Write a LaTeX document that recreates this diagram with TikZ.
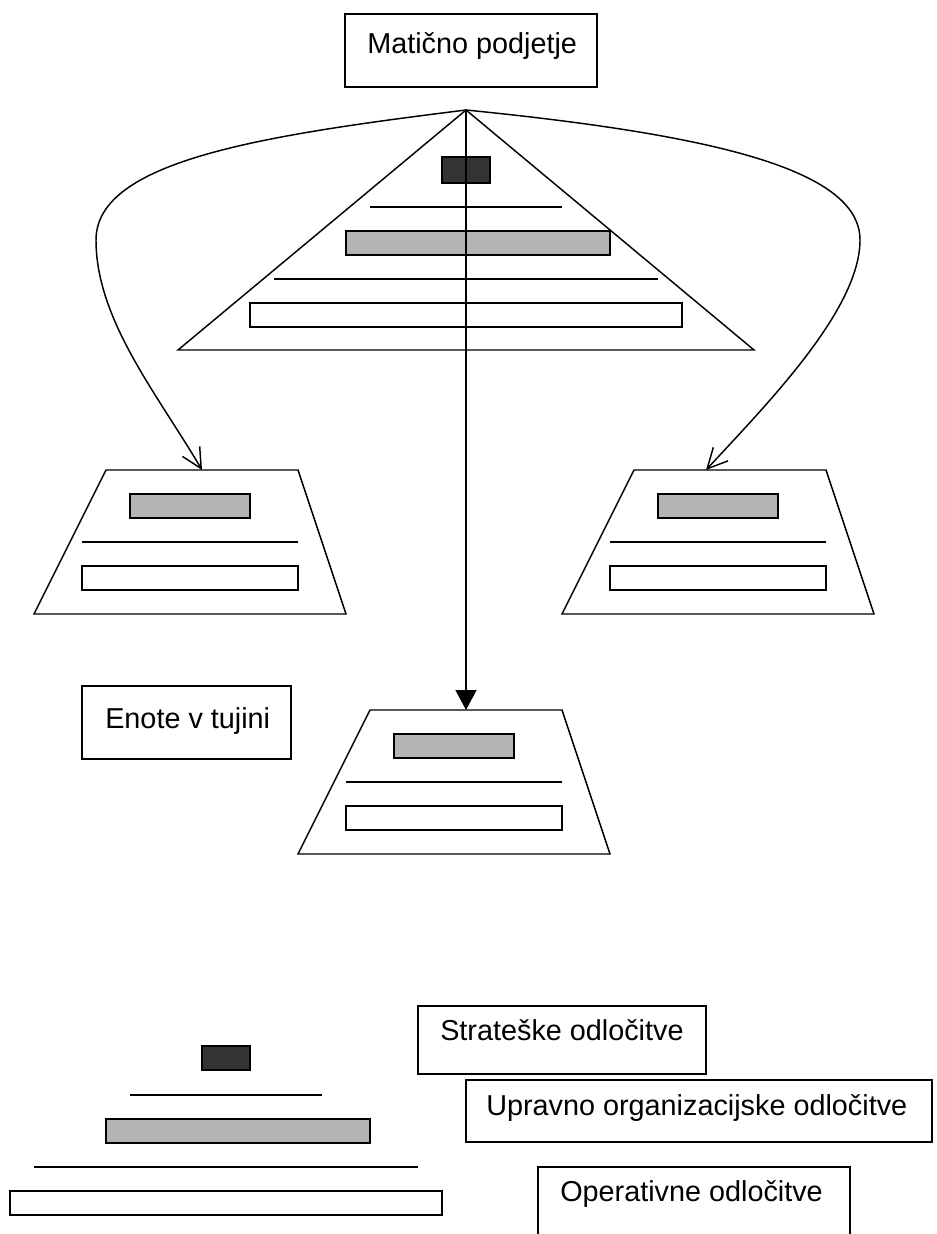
\documentclass[tikz,border=0pt]{standalone}
\usepackage{fontspec}
\setmainfont{Liberation Sans}
\usetikzlibrary{arrows.meta}
\definecolor{darkbar}{HTML}{333333}
\definecolor{graybar}{HTML}{B3B3B3}
\tikzset{
  ln/.style={line width=1.1pt, line join=miter},
  box/.style={ln, draw=black, fill=white},
  darkrect/.style={ln, draw=black, fill=darkbar},
  grayrect/.style={ln, draw=black, fill=graybar},
  whiterect/.style={ln, draw=black, fill=white},
  lbl/.style={anchor=base west, inner sep=0pt, font=\fontsize{21.6}{26}\selectfont},
  curvearrow/.style={ln, -{Straight Barb[length=15pt,width=15pt,line width=1.1pt]}},
  mainarrow/.style={ln, -{Triangle[length=15pt,width=15.75pt]}}
}
\begin{document}
\begin{tikzpicture}[x=0.75pt,y=-0.75pt]
\useasboundingbox (0,0) rectangle (936,1234);
\clip (0,0) rectangle (936,1234);
% top box
\draw[box] (345,14) rectangle (597,87);
\node[lbl] (mat) at (367,54) {Matično podjetje};
% big pyramid
\coordinate (apex) at (466,110);
\draw[ln] (apex) -- (754,350) -- (178,350) -- cycle;
\draw[darkrect] (442,157) rectangle (490,183);
\draw[ln] (370,207) -- (562,207);
\draw[grayrect] (346,231) rectangle (610,255);
\draw[ln] (274,279) -- (658,279);
\draw[whiterect] (250,303) rectangle (682,327);
% left trapezoid
\draw[ln] (106,470) -- (298,470) -- (346,614) -- (34,614) -- cycle;
\draw[grayrect] (130,494) rectangle (250,518);
\draw[ln] (82,542) -- (298,542);
\draw[whiterect] (82,566) rectangle (298,590);
% right trapezoid
\draw[ln] (634,470) -- (826,470) -- (874,614) -- (562,614) -- cycle;
\draw[grayrect] (658,494) rectangle (778,518);
\draw[ln] (610,542) -- (826,542);
\draw[whiterect] (610,566) rectangle (826,590);
% bottom trapezoid
\draw[ln] (370,710) -- (562,710) -- (610,854) -- (298,854) -- cycle;
\draw[grayrect] (394,734) rectangle (514,758);
\draw[ln] (346,782) -- (562,782);
\draw[whiterect] (346,806) rectangle (562,830);
% connectors
\coordinate (tl) at (202,470);
\coordinate (tr) at (706,470);
\coordinate (tb) at (466,710);
\draw[curvearrow] (apex) .. controls (266,135) and (96,160) .. (96,240)
   .. controls (96,320) and (158,395) .. (tl);
\draw[curvearrow] (apex) .. controls (716,135) and (860,170) .. (860,240)
   .. controls (860,310) and (766,405) .. (tr);
\draw[mainarrow] (apex) -- (tb);
% Enote box
\draw[box] (82,686) rectangle (291,759);
\node[lbl] (eno) at (105,728) {Enote v tujini};
% legend pyramid
\draw[darkrect] (202,1046) rectangle (250,1070);
\draw[ln] (130,1095) -- (322,1095);
\draw[grayrect] (106,1119) rectangle (370,1143);
\draw[ln] (34,1167) -- (418,1167);
\draw[whiterect] (10,1191) rectangle (442,1215);
% legend boxes
\draw[box] (418,1006) rectangle (706,1074);
\node[lbl] (str) at (440,1040) {Strateške odločitve};
\draw[box] (466,1080) rectangle (932,1142);
\node[lbl] (upr) at (486,1115) {Upravno organizacijske odločitve};
\draw[box] (538,1167) rectangle (850,1250);
\node[lbl] (ope) at (560,1201) {Operativne odločitve};
\end{tikzpicture}
\end{document}
